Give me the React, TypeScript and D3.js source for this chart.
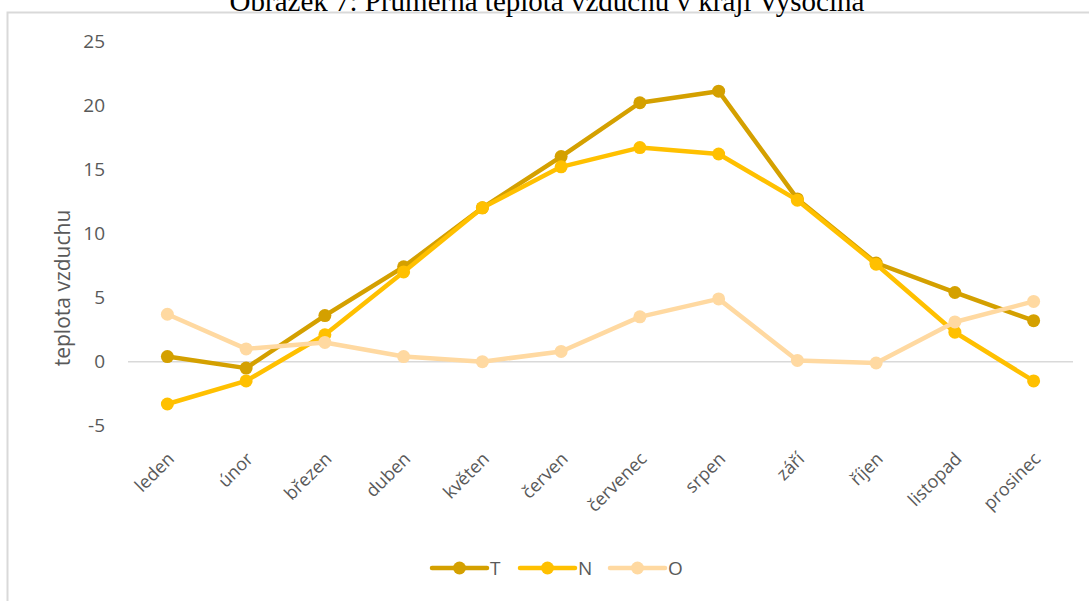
import { useEffect, useRef } from "react";
import * as d3 from "d3";

const months = ["leden", "únor", "březen", "duben", "květen", "červen", "červenec", "srpen", "září", "říjen", "listopad", "prosinec"];
const seriesT = [0.4, -0.5, 3.6, 7.4, 12.0, 16.0, 20.2, 21.1, 12.7, 7.7, 5.4, 3.2];
const seriesN = [-3.3, -1.5, 2.1, 7.0, 12.0, 15.2, 16.7, 16.2, 12.6, 7.6, 2.3, -1.5];
const seriesO = [3.7, 1.0, 1.5, 0.4, 0.0, 0.8, 3.5, 4.9, 0.1, -0.1, 3.1, 4.7];
const yTicks = [-5, 0, 5, 10, 15, 20, 25];

const series = [
  { name: "T", values: seriesT, color: "#D4A000" },
  { name: "N", values: seriesN, color: "#FFC000" },
  { name: "O", values: seriesO, color: "#FFD9A1" },
];

const W = 1089;
const H = 601;
const FONT = "'Open Sans', sans-serif";

const App = () => {
  const svgRef = useRef<SVGSVGElement>(null);

  useEffect(() => {
    document.body.style.margin = "0";
    const svg = d3.select(svgRef.current);
    svg.selectAll("*").remove();

    const x = d3.scalePoint<string>().domain(months).range([128, 1073]).padding(0.5);
    const y = d3.scaleLinear().domain([-5, 25]).range([425.8, 41.2]);

    // frame
    svg.append("path")
      .attr("d", `M7.5,${H} V12.5 H${W}`)
      .attr("fill", "none")
      .attr("stroke", "#d9d9d9")
      .attr("stroke-width", 2);

    // title (cut off at top in the original)
    svg.append("text")
      .attr("x", 547)
      .attr("y", 11)
      .attr("text-anchor", "middle")
      .attr("font-family", "'Liberation Serif', 'Times New Roman', serif")
      .attr("font-size", 29)
      .attr("fill", "#000")
      .text("Obrázek 7: Průměrná teplota vzduchu v kraji Vysočina");

    // zero line
    svg.append("line")
      .attr("x1", 128).attr("x2", 1073)
      .attr("y1", y(0)).attr("y2", y(0))
      .attr("stroke", "#d9d9d9")
      .attr("stroke-width", 1.5);

    // y ticks
    svg.append("g")
      .selectAll("text")
      .data(yTicks)
      .enter()
      .append("text")
      .attr("x", 105)
      .attr("y", (d) => y(d))
      .attr("dy", "0.35em")
      .attr("text-anchor", "end")
      .attr("font-family", FONT)
      .attr("font-size", 19)
      .attr("fill", "#595959")
      .text((d) => d);

    // y title
    svg.append("text")
      .attr("transform", "translate(70,288) rotate(-90)")
      .attr("text-anchor", "middle")
      .attr("font-family", FONT)
      .attr("font-size", 21)
      .attr("fill", "#595959")
      .text("teplota vzduchu");

    // x labels
    svg.append("g")
      .selectAll("text")
      .data(months)
      .enter()
      .append("text")
      .attr("transform", (d) => `translate(${(x(d) ?? 0) + 8},460) rotate(-45)`)
      .attr("text-anchor", "end")
      .attr("font-family", FONT)
      .attr("font-size", 18)
      .attr("fill", "#595959")
      .text((d) => d);

    const line = d3.line<number>()
      .x((_, i) => x(months[i]) ?? 0)
      .y((d) => y(d));

    series.forEach((s) => {
      const g = svg.append("g");
      g.append("path")
        .attr("d", line(s.values) ?? "")
        .attr("fill", "none")
        .attr("stroke", s.color)
        .attr("stroke-width", 4.5)
        .attr("stroke-linejoin", "round")
        .attr("stroke-linecap", "round");
      g.selectAll("circle")
        .data(s.values)
        .enter()
        .append("circle")
        .attr("cx", (_, i) => x(months[i]) ?? 0)
        .attr("cy", (d) => y(d))
        .attr("r", 6.5)
        .attr("fill", s.color);
    });

    // legend
    const legendX = [432, 520, 610];
    series.forEach((s, i) => {
      const g = svg.append("g").attr("transform", `translate(${legendX[i]},568)`);
      g.append("line")
        .attr("x1", 0).attr("x2", 55)
        .attr("stroke", s.color)
        .attr("stroke-width", 4.5)
        .attr("stroke-linecap", "round");
      g.append("circle").attr("cx", 27.5).attr("r", 6.5).attr("fill", s.color);
      g.append("text")
        .attr("x", 58)
        .attr("dy", "0.35em")
        .attr("font-family", FONT)
        .attr("font-size", 19)
        .attr("fill", "#595959")
        .text(s.name);
    });
  }, []);

  return (
    <svg
      ref={svgRef}
      width={W}
      height={H}
      style={{ display: "block", position: "absolute", left: 0, top: 0, background: "#fff" }}
    />
  );
};

export default App;
